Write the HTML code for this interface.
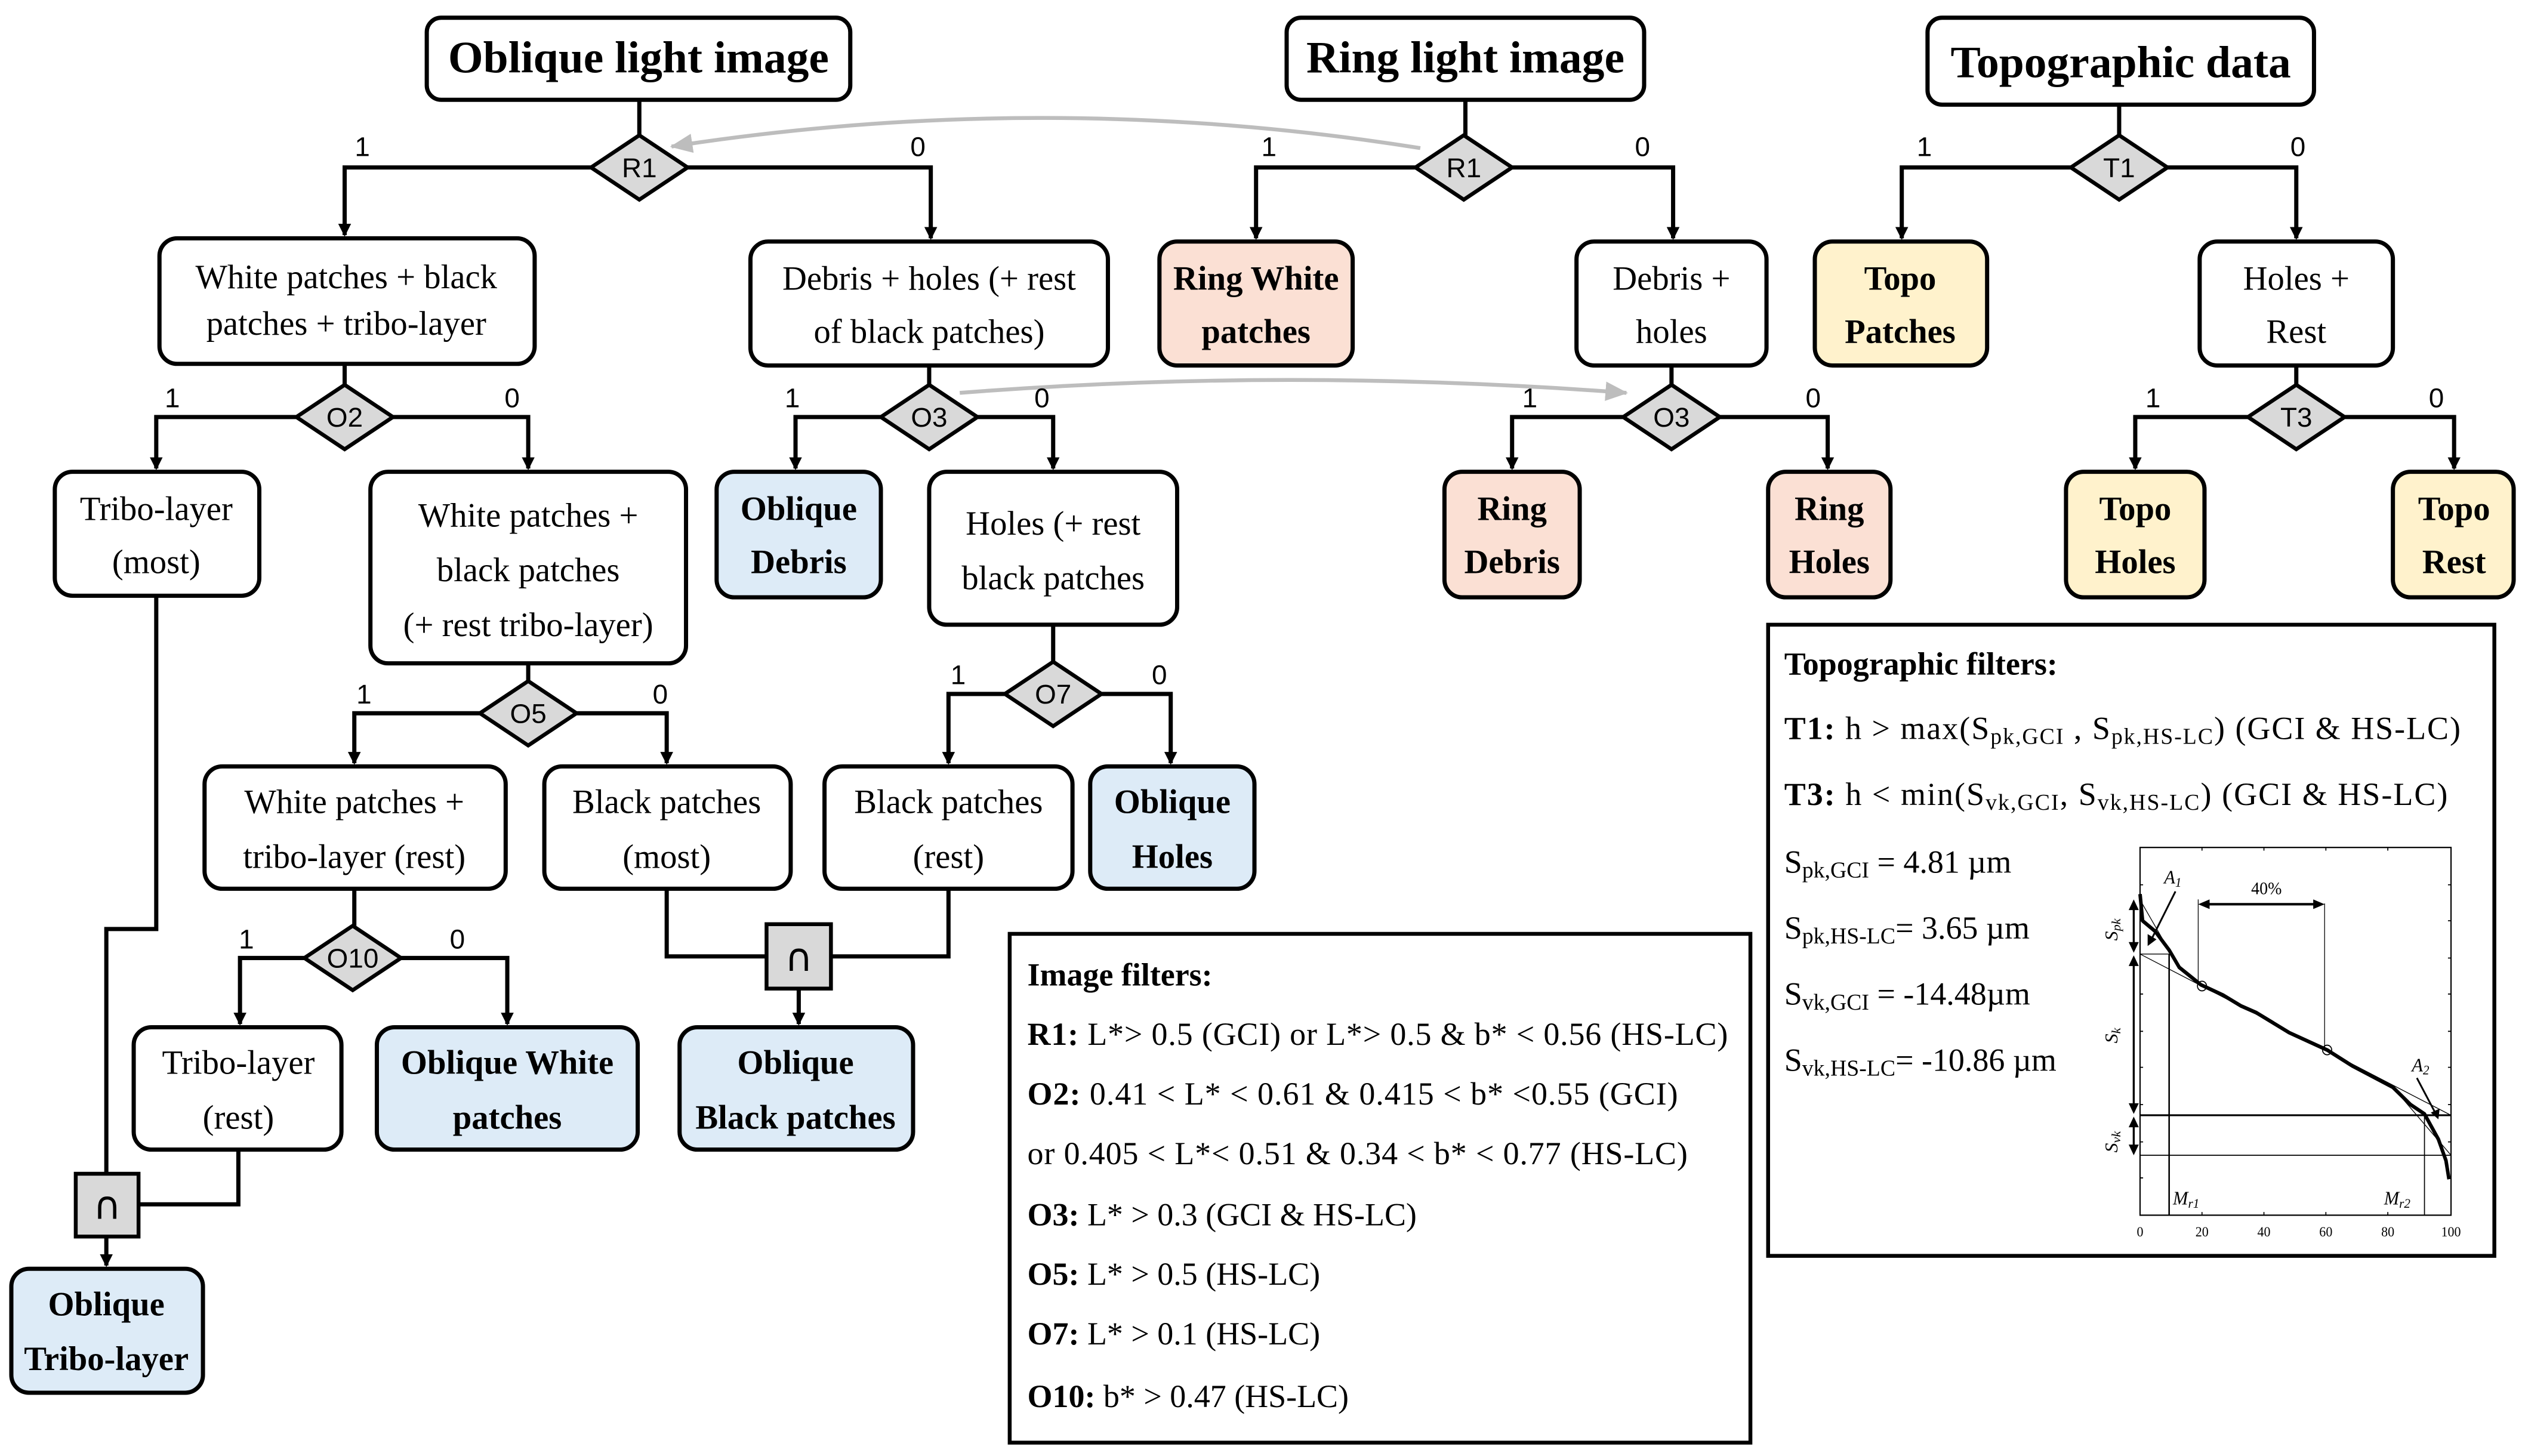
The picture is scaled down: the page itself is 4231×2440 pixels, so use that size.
<!DOCTYPE html>
<html><head><meta charset="utf-8"><style>
html,body{margin:0;padding:0;background:#fff;}
svg{display:block;}
text{font-family:"Liberation Serif",serif;fill:#000;}
.t{font-size:21px;text-anchor:middle;}
.b{font-size:21px;font-weight:bold;text-anchor:middle;}
.h{font-size:28px;font-weight:bold;text-anchor:middle;}
.d{font-family:"Liberation Sans",sans-serif;font-size:17px;text-anchor:middle;}
.c{font-family:"DejaVu Sans",sans-serif;font-size:24px;text-anchor:middle;}
.n{font-family:"Liberation Sans",sans-serif;font-size:17px;text-anchor:middle;}
.f{font-size:20px;}
.box{fill:#fff;stroke:#000;stroke-width:2.6;}
.bl{fill:#ddebf7;stroke:#000;stroke-width:2.6;}
.pk{fill:#fbe0d4;stroke:#000;stroke-width:2.6;}
.yl{fill:#fff2cc;stroke:#000;stroke-width:2.6;}
.dm{fill:#d9d9d9;stroke:#000;stroke-width:2.4;}
.ln{fill:none;stroke:#000;stroke-width:2.6;}
.gl{fill:none;stroke:#bdbdbd;stroke-width:2.4;}
</style></head><body>
<svg width="4231" height="2440" viewBox="0 0 1568 904.3" xmlns="http://www.w3.org/2000/svg">
<defs>
<marker id="a" markerWidth="8" markerHeight="8" refX="7" refY="4" orient="auto" markerUnits="userSpaceOnUse"><path d="M0,0 L8,4 L0,8 Z" fill="#000"/></marker>
<marker id="g" markerWidth="14" markerHeight="12" refX="13" refY="6" orient="auto" markerUnits="userSpaceOnUse"><path d="M0,0 L14,6 L0,12 Z" fill="#bdbdbd"/></marker>
</defs>

<rect class="box" x="265" y="11" width="263" height="51" rx="9"/><text class="h" x="396.5" y="45">Oblique light image</text>
<rect class="box" x="799" y="11" width="222" height="51" rx="9"/><text class="h" x="910" y="45">Ring light image</text>
<rect class="box" x="1197" y="11" width="240" height="54" rx="9"/><text class="h" x="1317" y="48">Topographic data</text>

<path class="ln" d="M397,62 V84"/><path class="ln" d="M910,62 V84"/><path class="ln" d="M1316,65 V84"/>
<path class="ln" d="M367,104 H214 V146" marker-end="url(#a)"/><path class="ln" d="M427,104 H578 V148" marker-end="url(#a)"/>
<path class="ln" d="M879,104 H780 V148" marker-end="url(#a)"/><path class="ln" d="M939,104 H1039 V148" marker-end="url(#a)"/>
<path class="ln" d="M1286,104 H1181 V148" marker-end="url(#a)"/><path class="ln" d="M1346,104 H1426 V148" marker-end="url(#a)"/>
<text class="n" x="225" y="97">1</text><text class="n" x="570" y="97">0</text>
<text class="n" x="788" y="97">1</text><text class="n" x="1020" y="97">0</text>
<text class="n" x="1195" y="97">1</text><text class="n" x="1427" y="97">0</text>

<path class="gl" d="M882,92 Q650,55 417,91" marker-end="url(#g)"/>
<path class="gl" d="M596,244 Q800,228 1010,244" marker-end="url(#g)"/>

<polygon class="dm" points="397,84 427,104 397,124 367,104"/><text class="d" x="397" y="110">R1</text>
<polygon class="dm" points="909,84 939,104 909,124 879,104"/><text class="d" x="909" y="110">R1</text>
<polygon class="dm" points="1316,84 1346,104 1316,124 1286,104"/><text class="d" x="1316" y="110">T1</text>

<rect class="box" x="99" y="148" width="233" height="78" rx="11"/><text class="t" x="215" y="179">White patches + black</text><text class="t" x="215" y="208">patches + tribo-layer</text>
<rect class="box" x="466" y="150" width="222" height="77" rx="11"/><text class="t" x="577" y="180">Debris + holes (+ rest</text><text class="t" x="577" y="213">of black patches)</text>
<rect class="pk" x="720" y="150" width="120" height="77" rx="11"/><text class="b" x="780" y="180">Ring White</text><text class="b" x="780" y="213">patches</text>
<rect class="box" x="979" y="150" width="118" height="77" rx="11"/><text class="t" x="1038" y="180">Debris +</text><text class="t" x="1038" y="213">holes</text>
<rect class="yl" x="1127" y="150" width="107" height="77" rx="11"/><text class="b" x="1180" y="180">Topo</text><text class="b" x="1180" y="213">Patches</text>
<rect class="box" x="1366" y="150" width="120" height="77" rx="11"/><text class="t" x="1426" y="180">Holes +</text><text class="t" x="1426" y="213">Rest</text>

<path class="ln" d="M214,226 V239"/><path class="ln" d="M577,227 V239"/><path class="ln" d="M1038,227 V239"/><path class="ln" d="M1426,227 V239"/>
<path class="ln" d="M184,259 H97 V291" marker-end="url(#a)"/><path class="ln" d="M244,259 H328 V291" marker-end="url(#a)"/>
<path class="ln" d="M547,259 H494 V291" marker-end="url(#a)"/><path class="ln" d="M607,259 H654 V291" marker-end="url(#a)"/>
<path class="ln" d="M1008,259 H939 V291" marker-end="url(#a)"/><path class="ln" d="M1068,259 H1135 V291" marker-end="url(#a)"/>
<path class="ln" d="M1396,259 H1326 V291" marker-end="url(#a)"/><path class="ln" d="M1456,259 H1524 V291" marker-end="url(#a)"/>
<text class="n" x="107" y="253">1</text><text class="n" x="318" y="253">0</text>
<text class="n" x="492" y="253">1</text><text class="n" x="647" y="253">0</text>
<text class="n" x="950" y="253">1</text><text class="n" x="1126" y="253">0</text>
<text class="n" x="1337" y="253">1</text><text class="n" x="1513" y="253">0</text>
<polygon class="dm" points="214,239 244,259 214,279 184,259"/><text class="d" x="214" y="265">O2</text>
<polygon class="dm" points="577,239 607,259 577,279 547,259"/><text class="d" x="577" y="265">O3</text>
<polygon class="dm" points="1038,239 1068,259 1038,279 1008,259"/><text class="d" x="1038" y="265">O3</text>
<polygon class="dm" points="1426,239 1456,259 1426,279 1396,259"/><text class="d" x="1426" y="265">T3</text>

<rect class="box" x="34" y="293" width="127" height="77" rx="11"/><text class="t" x="97" y="323">Tribo-layer</text><text class="t" x="97" y="356">(most)</text>
<rect class="box" x="230" y="293" width="196" height="119" rx="11"/><text class="t" x="328" y="327">White patches +</text><text class="t" x="328" y="361">black patches</text><text class="t" x="328" y="395">(+ rest tribo-layer)</text>
<rect class="bl" x="445" y="293" width="102" height="78" rx="11"/><text class="b" x="496" y="323">Oblique</text><text class="b" x="496" y="356">Debris</text>
<rect class="box" x="577" y="293" width="154" height="95" rx="11"/><text class="t" x="654" y="332">Holes (+ rest</text><text class="t" x="654" y="366">black patches</text>
<rect class="pk" x="897" y="293" width="84" height="78" rx="11"/><text class="b" x="939" y="323">Ring</text><text class="b" x="939" y="356">Debris</text>
<rect class="pk" x="1098" y="293" width="76" height="78" rx="11"/><text class="b" x="1136" y="323">Ring</text><text class="b" x="1136" y="356">Holes</text>
<rect class="yl" x="1283" y="293" width="86" height="78" rx="11"/><text class="b" x="1326" y="323">Topo</text><text class="b" x="1326" y="356">Holes</text>
<rect class="yl" x="1486" y="293" width="75" height="78" rx="11"/><text class="b" x="1524" y="323">Topo</text><text class="b" x="1524" y="356">Rest</text>

<path class="ln" d="M328,412 V423"/><path class="ln" d="M654,388 V411"/>
<path class="ln" d="M298,443 H220 V474" marker-end="url(#a)"/><path class="ln" d="M358,443 H414 V474" marker-end="url(#a)"/>
<path class="ln" d="M624,431 H589 V474" marker-end="url(#a)"/><path class="ln" d="M684,431 H727 V474" marker-end="url(#a)"/>
<text class="n" x="226" y="437">1</text><text class="n" x="410" y="437">0</text>
<text class="n" x="595" y="425">1</text><text class="n" x="720" y="425">0</text>
<polygon class="dm" points="328,423 358,443 328,463 298,443"/><text class="d" x="328" y="449">O5</text>
<polygon class="dm" points="654,411 684,431 654,451 624,431"/><text class="d" x="654" y="437">O7</text>

<rect class="box" x="127" y="476" width="187" height="76" rx="11"/><text class="t" x="220" y="505">White patches +</text><text class="t" x="220" y="539">tribo-layer (rest)</text>
<rect class="box" x="338" y="476" width="153" height="76" rx="11"/><text class="t" x="414" y="505">Black patches</text><text class="t" x="414" y="539">(most)</text>
<rect class="box" x="512" y="476" width="154" height="76" rx="11"/><text class="t" x="589" y="505">Black patches</text><text class="t" x="589" y="539">(rest)</text>
<rect class="bl" x="677" y="476" width="102" height="76" rx="11"/><text class="b" x="728" y="505">Oblique</text><text class="b" x="728" y="539">Holes</text>

<path class="ln" d="M220,552 V575"/>
<path class="ln" d="M189,595 H149 V636" marker-end="url(#a)"/><path class="ln" d="M249,595 H315 V636" marker-end="url(#a)"/>
<text class="n" x="153" y="589">1</text><text class="n" x="284" y="589">0</text>
<polygon class="dm" points="219,575 249,595 219,615 189,595"/><text class="d" x="219" y="601">O10</text>
<path class="ln" d="M414,552 V594 H476"/><path class="ln" d="M589,552 V594 H516"/>
<rect class="dm" x="476" y="574" width="40" height="40"/><text class="c" x="496" y="603">∩</text>
<path class="ln" d="M496,614 V636" marker-end="url(#a)"/>

<rect class="box" x="83" y="638" width="129" height="76" rx="11"/><text class="t" x="148" y="667">Tribo-layer</text><text class="t" x="148" y="701">(rest)</text>
<rect class="bl" x="234" y="638" width="162" height="76" rx="11"/><text class="b" x="315" y="667">Oblique White</text><text class="b" x="315" y="701">patches</text>
<rect class="bl" x="422" y="638" width="145" height="76" rx="11"/><text class="b" x="494" y="667">Oblique</text><text class="b" x="494" y="701">Black patches</text>

<path class="ln" d="M97,370 V577 H66 V729"/>
<path class="ln" d="M148,714 V748 H86"/>
<rect class="dm" x="47" y="729" width="39" height="39"/><text class="c" x="66.5" y="757">∩</text>
<path class="ln" d="M66,768 V786" marker-end="url(#a)"/>
<rect class="bl" x="7" y="788" width="119" height="77" rx="11"/><text class="b" x="66" y="817">Oblique</text><text class="b" x="66" y="851">Tribo-layer</text>

<rect x="627" y="580" width="460" height="316" fill="#fff" stroke="#000" stroke-width="2.4"/>
<text x="638" y="612" class="f" font-weight="bold">Image filters:</text>
<text x="638" y="649" class="f" textLength="435"><tspan font-weight="bold">R1:</tspan> L*&gt; 0.5 (GCI) or L*&gt; 0.5 &amp; b* &lt; 0.56 (HS-LC)</text>
<text x="638" y="686" class="f" textLength="404"><tspan font-weight="bold">O2:</tspan> 0.41 &lt; L* &lt; 0.61  &amp; 0.415 &lt; b* &lt;0.55 (GCI)</text>
<text x="638" y="723" class="f" textLength="410">or 0.405 &lt; L*&lt; 0.51 &amp; 0.34 &lt; b* &lt; 0.77 (HS-LC)</text>
<text x="638" y="761" class="f"><tspan font-weight="bold">O3:</tspan> L* &gt; 0.3 (GCI &amp; HS-LC)</text>
<text x="638" y="798" class="f"><tspan font-weight="bold">O5:</tspan> L* &gt; 0.5 (HS-LC)</text>
<text x="638" y="835" class="f"><tspan font-weight="bold">O7:</tspan> L* &gt; 0.1 (HS-LC)</text>
<text x="638" y="874" class="f"><tspan font-weight="bold">O10:</tspan> b* &gt; 0.47 (HS-LC)</text>

<rect x="1098" y="388" width="451" height="392" fill="#fff" stroke="#000" stroke-width="2.4"/>
<text x="1108" y="419" class="f" font-weight="bold">Topographic filters:</text>
<text x="1108" y="459" class="f" textLength="420"><tspan font-weight="bold">T1:</tspan> h &gt; max(S<tspan font-size="14" dy="3">pk,GCI</tspan><tspan dy="-3"> , S</tspan><tspan font-size="14" dy="3">pk,HS-LC</tspan><tspan dy="-3">) (GCI &amp; HS-LC)</tspan></text>
<text x="1108" y="500" class="f" textLength="412"><tspan font-weight="bold">T3:</tspan> h &lt; min(S<tspan font-size="14" dy="3">vk,GCI</tspan><tspan dy="-3">, S</tspan><tspan font-size="14" dy="3">vk,HS-LC</tspan><tspan dy="-3">) (GCI &amp; HS-LC)</tspan></text>
<text x="1108" y="542" class="f">S<tspan font-size="14" dy="3">pk,GCI</tspan><tspan dy="-3"> = 4.81 µm</tspan></text>
<text x="1108" y="583" class="f">S<tspan font-size="14" dy="3">pk,HS-LC</tspan><tspan dy="-3">= 3.65 µm</tspan></text>
<text x="1108" y="624" class="f">S<tspan font-size="14" dy="3">vk,GCI</tspan><tspan dy="-3"> = -14.48µm</tspan></text>
<text x="1108" y="665" class="f">S<tspan font-size="14" dy="3">vk,HS-LC</tspan><tspan dy="-3">= -10.86 µm</tspan></text>

<g transform="translate(1291.3,518.9) scale(0.157,0.1655)">
<rect x="240" y="45" width="1230" height="1380" fill="none" stroke="#000" stroke-width="5"/>
<g stroke="#000" stroke-width="4">
<path d="M485,45v12M730,45v12M975,45v12M1220,45v12M485,1425v-12M730,1425v-12M975,1425v-12M1220,1425v-12"/>
<path d="M1470,185h-12M1470,320h-12M1470,460h-12M1470,595h-12M1470,735h-12M1470,870h-12M1470,1010h-12M1470,1150h-12M1470,1285h-12"/>
<path d="M240,185h12M240,320h12M240,595h12M240,735h12M240,870h12M240,1010h12M240,1150h12M240,1285h12"/>
</g>
<g fill="none" stroke="#000">
<path d="M245,250 L360,440" stroke-width="3"/>
<path d="M240,445 L1470,1050" stroke-width="3"/>
<path d="M1240,945 L1470,1200" stroke-width="3"/>
<path d="M240,445 H355" stroke-width="3"/>
<path d="M240,1050 H1470" stroke-width="7"/>
<path d="M240,1200 H1470" stroke-width="4"/>
<path d="M355,445 V1425" stroke-width="6"/>
<path d="M1365,1050 V1425" stroke-width="4"/>
<path d="M470,240 V560 M970,255 V805" stroke-width="3"/>
<path d="M240,220 L250,320 L300,360 L355,430 L395,495 L480,560 L570,600 L640,640 L700,665 L830,740 L980,805 L1080,865 L1240,945 L1310,1010 L1365,1045 L1420,1140 L1450,1220 L1462,1290" stroke-width="14" stroke-linejoin="round"/>
<circle cx="485" cy="565" r="18" stroke-width="4"/><circle cx="980" cy="805" r="18" stroke-width="4"/>
<path d="M500,258 H940" stroke-width="9"/>
<path d="M215,270 V410 M215,480 V1010 M215,1080 V1170" stroke-width="8"/>
<path d="M380,210 L285,390" stroke-width="7"/>
<path d="M1335,910 L1410,1045" stroke-width="7"/>
</g>
<g fill="#000">
<path d="M470,258 L515,240 L515,276Z M970,258 L925,240 L925,276Z"/>
<path d="M215,240 L195,280 L235,280Z M215,440 L195,400 L235,400Z M215,450 L195,490 L235,490Z M215,1045 L195,1005 L235,1005Z M215,1055 L195,1095 L235,1095Z M215,1200 L195,1160 L235,1160Z"/>
<path d="M270,415 L270,370 L305,390Z M1420,1065 L1390,1040 L1425,1025Z"/>
</g>
<g font-style="italic" font-size="72">
<text x="335" y="180">A<tspan font-size="50" dy="12">1</tspan></text>
<text x="1315" y="885">A<tspan font-size="50" dy="12">2</tspan></text>
<text x="370" y="1385">M<tspan font-size="50" dy="12">r1</tspan></text>
<text x="1205" y="1385">M<tspan font-size="50" dy="12">r2</tspan></text>
<text transform="translate(150,395) rotate(-90)">S<tspan font-size="50" dy="12">pk</tspan></text>
<text transform="translate(150,780) rotate(-90)">S<tspan font-size="50" dy="12">k</tspan></text>
<text transform="translate(150,1190) rotate(-90)">S<tspan font-size="50" dy="12">vk</tspan></text>
</g>
<text x="740" y="220" font-size="66" text-anchor="middle">40%</text>
<g font-family="Liberation Sans,sans-serif" font-size="52" text-anchor="middle">
<text x="240" y="1505">0</text><text x="485" y="1505">20</text><text x="730" y="1505">40</text><text x="975" y="1505">60</text><text x="1220" y="1505">80</text><text x="1470" y="1505">100</text>
</g>
</g>
</svg>
</body></html>
